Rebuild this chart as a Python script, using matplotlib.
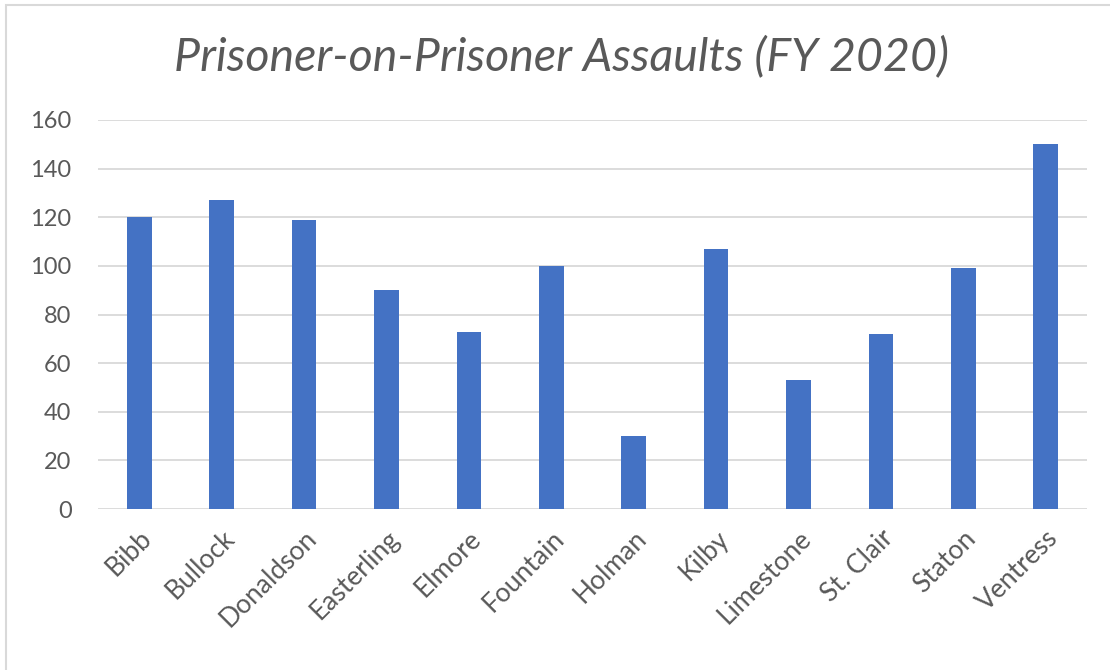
import matplotlib
matplotlib.use("Agg")
import matplotlib.pyplot as plt
from matplotlib.patches import Rectangle

facilities = ["Bibb", "Bullock", "Donaldson", "Easterling", "Elmore", "Fountain",
              "Holman", "Kilby", "Limestone", "St. Clair", "Staton", "Ventress"]
assaults = [120, 127, 119, 90, 73, 100, 30, 107, 53, 72, 99, 150]
y_ticks = [0, 20, 40, 60, 80, 100, 120, 140, 160]

BLUE = "#4472C4"
TEXT = "#595959"
GRID = "#D9D9D9"

plt.rcParams["font.family"] = ["Lato", "DejaVu Sans"]

fig = plt.figure(figsize=(11.1, 6.7), dpi=100)
ax = fig.add_axes([98 / 1110, 161 / 670, 989 / 1110, 389 / 670])

x = range(len(facilities))
ax.bar(x, assaults, width=0.30, color=BLUE, zorder=3)

ax.set_xlim(-0.5, len(facilities) - 0.5)
ax.set_ylim(0, 160)
ax.set_yticks(y_ticks)
ax.set_xticks(list(x))
ax.set_xticklabels(facilities, rotation=45, ha="right", rotation_mode="anchor")
ax.yaxis.grid(True, color=GRID, linewidth=1.3, zorder=0)
ax.tick_params(axis="both", length=0, colors=TEXT)
ax.tick_params(axis="y", pad=19, labelsize=17)
ax.tick_params(axis="x", pad=12, labelsize=19)
for s in ax.spines.values():
    s.set_visible(False)

fig.text(0.506, 1 - 57 / 670, "Prisoner-on-Prisoner Assaults (FY 2020)",
         ha="center", va="center", fontsize=33.5, style="italic", color=TEXT)

# chart frame
fig.patches.append(Rectangle((6 / 1110, -0.01), 1.1, 1 - 5 / 670 + 0.01,
                             transform=fig.transFigure, fill=False,
                             edgecolor=GRID, linewidth=1.5))

fig.savefig("out.png", dpi=100)
